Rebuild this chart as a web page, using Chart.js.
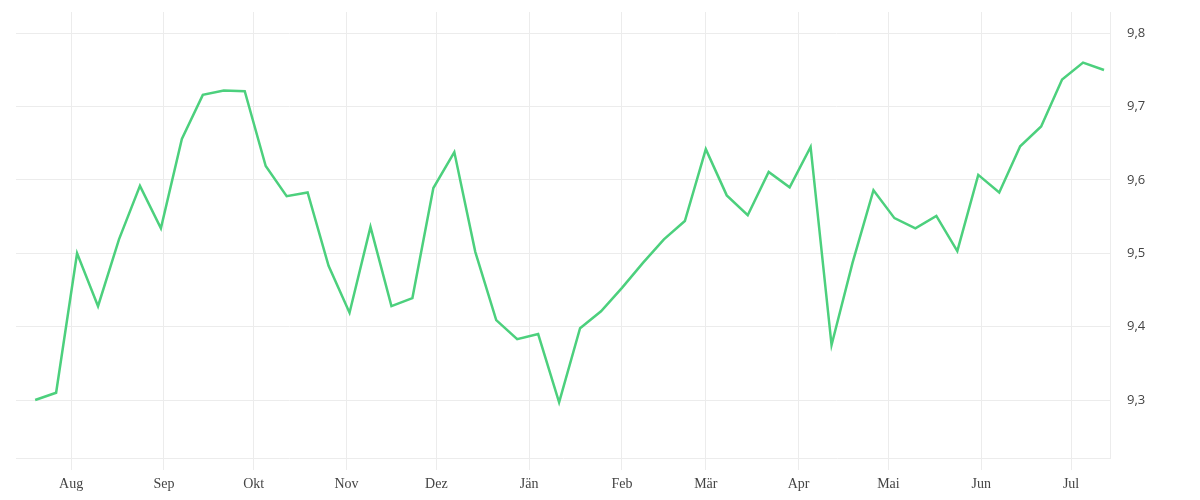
<!DOCTYPE html>
<html lang="de">
<head>
    <meta charset="UTF-8">
    <title>Wochenverlauf</title>
    <script src="https://cdn.jsdelivr.net/npm/chart.js@4.4.1/dist/chart.umd.min.js"></script>
    <style>
        html, body { margin: 0; padding: 0; background: #fff; }
        #wrap { width: 1200px; height: 500px; }
    </style>
</head>
<body>
    <div id="wrap"><canvas id="lineChart"></canvas></div>

    <script>
        // days counted from 1 Aug; one value per week
        const firstDay = -12;
        const values = [
            9.300, 9.310, 9.500, 9.428, 9.519, 9.592, 9.534, 9.656, 9.716, 9.722,
            9.721, 9.619, 9.578, 9.583, 9.483, 9.419, 9.536, 9.428, 9.439, 9.589,
            9.638, 9.502, 9.409, 9.383, 9.390, 9.297, 9.398, 9.421, 9.453, 9.487,
            9.519, 9.544, 9.642, 9.579, 9.552, 9.611, 9.590, 9.645, 9.375, 9.487,
            9.586, 9.548, 9.534, 9.551, 9.503, 9.607, 9.583, 9.646, 9.673, 9.737,
            9.760, 9.750
        ];
        const monthLabels = ['Aug', 'Sep', 'Okt', 'Nov', 'Dez', 'Jän', 'Feb', 'Mär', 'Apr', 'Mai', 'Jun', 'Jul'];
        const monthStarts = [0, 31, 61, 92, 122, 153, 184, 212, 243, 273, 304, 334];
        const yTicks = [9.3, 9.4, 9.5, 9.6, 9.7, 9.8];

        const points = values.map((v, i) => ({ x: firstDay + i * 7, y: v }));
        const gridColor = '#ececec';

        new Chart(document.getElementById('lineChart'), {
            type: 'line',
            data: {
                datasets: [{
                    data: points,
                    borderColor: '#4cd07d',
                    borderWidth: 2.5,
                    pointRadius: 0,
                    tension: 0,
                    fill: false
                }]
            },
            options: {
                responsive: true,
                maintainAspectRatio: false,
                animation: false,
                layout: { padding: { left: 16, top: 12, right: 0, bottom: 0 } },
                plugins: {
                    legend: { display: false },
                    tooltip: { enabled: false }
                },
                scales: {
                    x: {
                        type: 'linear',
                        min: -18.4,
                        max: 347,
                        afterBuildTicks: axis => {
                            axis.ticks = monthStarts.map(v => ({ value: v }));
                        },
                        afterFit: axis => { axis.height = 42; },
                        grid: {
                            color: gridColor,
                            tickLength: 12,
                            drawTicks: true
                        },
                        border: { display: true, color: gridColor },
                        ticks: {
                            autoSkip: false,
                            maxRotation: 0,
                            padding: 6,
                            color: '#444',
                            font: { family: '"Liberation Serif", "DejaVu Serif", serif', size: 14 },
                            callback: (value) => monthLabels[monthStarts.indexOf(value)]
                        }
                    },
                    y: {
                        position: 'right',
                        min: 9.221,
                        max: 9.829,
                        afterBuildTicks: axis => {
                            axis.ticks = yTicks.map(v => ({ value: v }));
                        },
                        afterFit: axis => { axis.width = 90; },
                        grid: {
                            color: gridColor,
                            drawTicks: true,
                            tickLength: 17,
                            tickColor: 'rgba(0,0,0,0)'
                        },
                        border: { display: true, color: gridColor },
                        ticks: {
                            padding: 0,
                            color: '#444',
                            font: { family: '"Open Sans", sans-serif', size: 13 },
                            callback: (value) => value.toFixed(1).replace('.', ',')
                        }
                    }
                }
            }
        });
    </script>
</body>
</html>
